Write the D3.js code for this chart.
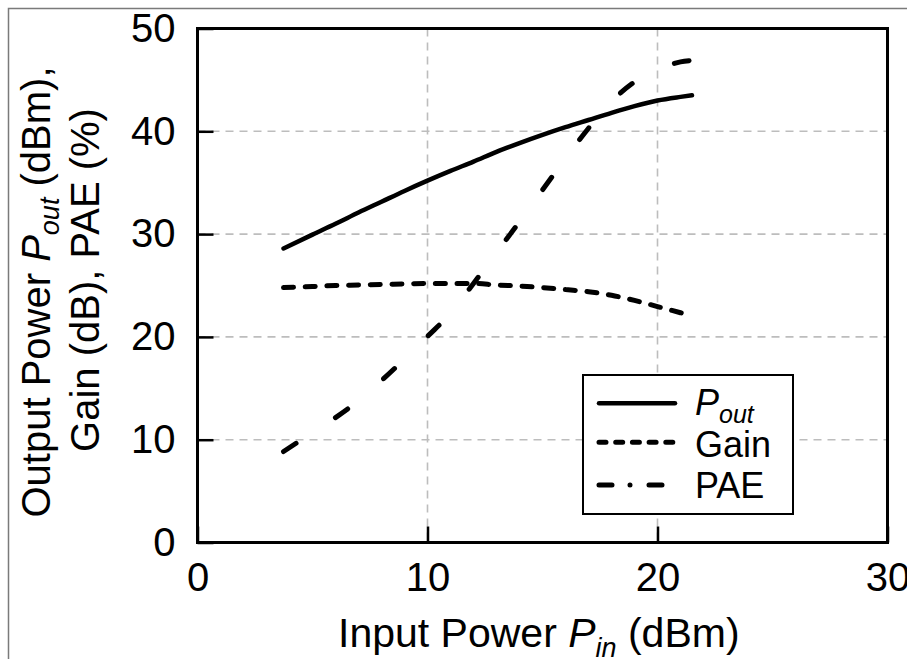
<!DOCTYPE html>
<html>
<head>
<meta charset="utf-8">
<script src="https://cdn.jsdelivr.net/npm/d3@7/dist/d3.min.js"></script>
<style>
  html, body { margin: 0; padding: 0; background: #fff; }
  svg { display: block; font-family: "Liberation Sans", Arial, sans-serif; }
</style>
</head>
<body>
<svg id="chart" width="907" height="659"></svg>
<script>
// ---- data ----
const pin  = [3.74, 5, 6, 7, 8, 9, 10, 11, 12, 13, 14, 15, 16, 17, 18, 19, 20, 21, 21.5];
const pout = [28.6, 29.95, 31.0, 32.1, 33.15, 34.2, 35.2, 36.15, 37.05, 38.0, 38.85, 39.65, 40.4, 41.1, 41.8, 42.45, 43.0, 43.35, 43.5];
const gain = [24.8, 24.9, 25.0, 25.05, 25.1, 25.15, 25.2, 25.2, 25.2, 25.05, 24.95, 24.8, 24.6, 24.4, 24.05, 23.55, 22.95, 22.35, 22.05];
const pae  = [8.85, 10.7, 12.15, 13.8, 15.75, 17.85, 20.05, 22.3, 25.2, 28.2, 31.2, 34.3, 37.35, 40.3, 42.9, 44.8, 46.0, 46.75, 46.9];
const xTicks = [0, 10, 20, 30];
const yTicks = [0, 10, 20, 30, 40, 50];
const xGrid = [10, 20];
const yGrid = [10, 20, 30, 40];
const seriesNames = ["Pout", "Gain", "PAE"];

const svg = d3.select("#chart");
const W = 907, H = 659;

const x = d3.scaleLinear().domain([0, 30]).range([197.5, 887.5]);
const y = d3.scaleLinear().domain([0, 50]).range([542.5, 28.5]);

// outer frame
svg.append("rect").attr("x", 8.5).attr("y", 8.5).attr("width", W).attr("height", H)
  .attr("fill", "none").attr("stroke", "#7a7a7a").attr("stroke-width", 1.5);

// grid
const grid = svg.append("g").attr("stroke", "#bdbdbd").attr("stroke-width", 1.6)
  .attr("stroke-dasharray", "8,6");
grid.selectAll(".gx").data(xGrid).join("line")
  .attr("x1", d => x(d)).attr("x2", d => x(d)).attr("y1", y(50)).attr("y2", y(0));
grid.selectAll(".gy").data(yGrid).join("line")
  .attr("y1", d => y(d)).attr("y2", d => y(d)).attr("x1", x(0)).attr("x2", x(30));

// axes
const fs = 40;
const gy = svg.append("g").attr("transform", `translate(${x(0)},0)`)
  .call(d3.axisLeft(y).tickValues(yTicks).tickSizeInner(-16).tickSizeOuter(0).tickPadding(22));
const gx = svg.append("g").attr("transform", `translate(0,${y(0)})`)
  .call(d3.axisBottom(x).tickValues(xTicks).tickSizeInner(-16).tickSizeOuter(0).tickPadding(20));
[gx, gy].forEach(g => {
  g.select(".domain").remove();
  g.selectAll(".tick line").attr("stroke", "#000").attr("stroke-width", 2.5);
  g.selectAll(".tick text").attr("font-size", fs).attr("fill", "#000")
    .attr("font-family", "'Liberation Sans', Arial, sans-serif");
});

// plot frame
svg.append("rect").attr("x", x(0)).attr("y", y(50))
  .attr("width", x(30) - x(0)).attr("height", y(0) - y(50))
  .attr("fill", "none").attr("stroke", "#000").attr("stroke-width", 3);

// series
const line = (vals) => d3.line().x((d, i) => x(pin[i])).y(d => y(d)).curve(d3.curveMonotoneX)(vals);

svg.append("path").attr("d", line(pout)).attr("fill", "none")
  .attr("stroke", "#000").attr("stroke-width", 4.5).attr("stroke-linecap", "round");
svg.append("path").attr("d", line(gain)).attr("fill", "none")
  .attr("stroke", "#000").attr("stroke-width", 5).attr("stroke-linecap", "round")
  .attr("stroke-dasharray", "10,11.7");
svg.append("path").attr("d", line(pae)).attr("fill", "none")
  .attr("stroke", "#000").attr("stroke-width", 5).attr("stroke-linecap", "round")
  .attr("stroke-dasharray", "15,47");

// legend
const lg = svg.append("g");
lg.append("rect").attr("x", 583).attr("y", 375).attr("width", 210).attr("height", 139)
  .attr("fill", "#fff").attr("stroke", "#000").attr("stroke-width", 2);
const legRows = [
  { name: seriesNames[0], y: 403.3, dash: null, w: 4.5, x2: 675 },
  { name: seriesNames[1], y: 442.3, dash: "7,9.7", w: 5, x2: 675 },
  { name: seriesNames[2], y: 485, dash: "13,18,0,19", w: 5, x2: 663 }
];
legRows.forEach(r => {
  const l = lg.append("line").attr("x1", 599).attr("x2", r.x2).attr("y1", r.y).attr("y2", r.y)
    .attr("stroke", "#000").attr("stroke-width", r.w).attr("stroke-linecap", "round");
  if (r.dash) l.attr("stroke-dasharray", r.dash);
});
const lt1 = lg.append("text").attr("x", 695).attr("y", 415).attr("font-size", 36);
lt1.append("tspan").attr("font-style", "italic").text("P");
lt1.append("tspan").attr("font-style", "italic").attr("font-size", 25).attr("dy", 8).text("out");
lg.append("text").attr("x", 695).attr("y", 457).attr("font-size", 36).text("Gain");
lg.append("text").attr("x", 695).attr("y", 498).attr("font-size", 36).text("PAE");

// x axis title
const xt = svg.append("text").attr("x", 338).attr("y", 647).attr("font-size", 41);
xt.append("tspan").text("Input Power ");
xt.append("tspan").attr("font-style", "italic").text("P");
xt.append("tspan").attr("font-style", "italic").attr("font-size", 27).attr("dy", 10).text("in");
xt.append("tspan").attr("dy", -10).text(" (dBm)");

// y axis title (two lines)
const yt1 = svg.append("text").attr("transform", "translate(50,292) rotate(-90)")
  .attr("text-anchor", "middle").attr("font-size", 40);
yt1.append("tspan").text("Output Power ");
yt1.append("tspan").attr("font-style", "italic").text("P");
yt1.append("tspan").attr("font-style", "italic").attr("font-size", 27).attr("dy", 9).text("out");
yt1.append("tspan").attr("dy", -9).text(" (dBm),");
svg.append("text").attr("transform", "translate(99,280) rotate(-90)")
  .attr("text-anchor", "middle").attr("font-size", 40).text("Gain (dB), PAE (%)");
</script>
</body>
</html>
